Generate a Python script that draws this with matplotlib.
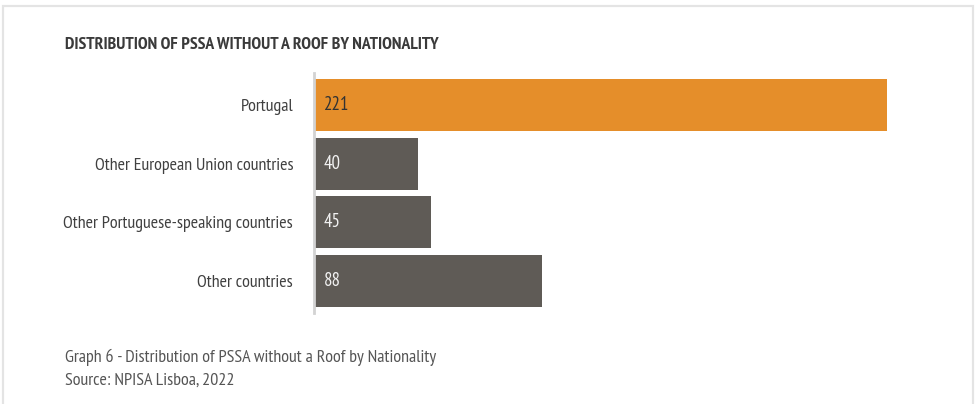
import matplotlib.pyplot as plt
from matplotlib.patches import Rectangle
from matplotlib import font_manager

# data
categories = ['Portugal', 'Other European Union countries',
              'Other Portuguese-speaking countries', 'Other countries']
counts = [221, 40, 45, 88]
bar_colors = ['#E58E2A', '#5F5B56', '#5F5B56', '#5F5B56']
value_colors = ['#333333', '#F2F2F2', '#F2F2F2', '#F2F2F2']

names = {f.name for f in font_manager.fontManager.ttflist}
for cand in ['PT Sans Narrow', 'Archivo Narrow', 'Liberation Sans Narrow']:
    if cand in names:
        FAMILY = [cand, 'DejaVu Sans']
        break
else:
    FAMILY = ['DejaVu Sans']
plt.rcParams['font.family'] = FAMILY

W, H = 976, 404
fig = plt.figure(figsize=(W / 100, H / 100), dpi=100)
fig.patch.set_facecolor('white')

# light card frame
fig.add_artist(Rectangle((3 / W, -0.05), 970 / W, (H - 6) / H + 0.05,
                         transform=fig.transFigure, fill=False,
                         edgecolor='#E4E4E4', linewidth=1.6))

ax = fig.add_axes([314 / W, (H - 313) / H, 573 / W, 240 / H])
ypos = list(range(len(categories)))
ax.barh(ypos, counts, height=0.886, color=bar_colors, left=0)
ax.set_xlim(0, max(counts))
ax.set_ylim(len(categories) - 0.455, -0.545)

for y, v, c in zip(ypos, counts, value_colors):
    ax.text(3.9, y, str(v), color=c, fontsize=13.5, va='center', ha='left')

ax.set_yticks(ypos)
ax.set_yticklabels(categories, fontsize=13, color='#404040')
ax.tick_params(axis='y', length=0, pad=15)
ax.set_xticks([])
for s in ['top', 'right', 'bottom']:
    ax.spines[s].set_visible(False)
ax.spines['left'].set_color('#D3D3D3')
ax.spines['left'].set_linewidth(2)

fig.text(65 / W, 1 - 45 / H, 'DISTRIBUTION OF PSSA WITHOUT A ROOF BY NATIONALITY',
         fontsize=12.7, fontweight='bold', color='#3A3A3A', va='center', ha='left')
fig.text(65 / W, 1 - 357 / H, 'Graph 6 - Distribution of PSSA without a Roof by Nationality',
         fontsize=13, color='#555555', va='center', ha='left')
fig.text(65 / W, 1 - 381 / H, 'Source: NPISA Lisboa, 2022',
         fontsize=13, color='#555555', va='center', ha='left')

fig.savefig('out.png', dpi=100)
